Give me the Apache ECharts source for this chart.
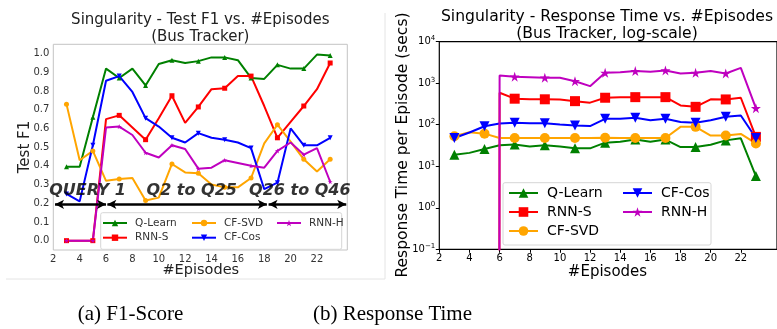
<!DOCTYPE html>
<html>
<head>
<meta charset="utf-8">
<script src="https://cdn.jsdelivr.net/npm/echarts@6/dist/echarts.min.js"></script>
<style>
  html, body { margin: 0; padding: 0; background: #fff; }
  #chart { width: 777px; height: 329px; }
</style>
</head>
<body>
<div id="chart"></div>
<script>
// Episodes at which each model was evaluated
const episodes = [3, 4, 5, 6, 7, 8, 9, 10, 11, 12, 13, 14, 15, 16, 17, 18, 19, 20, 21, 22, 23];

// Test F1 per episode
const qLearnF1 = [0.395, 0.395, 0.66, 0.92, 0.87, 0.92, 0.83, 0.945, 0.965, 0.95, 0.96, 0.98, 0.98, 0.965, 0.87, 0.865, 0.94, 0.92, 0.92, 0.995, 0.99];
const rnnSF1   = [0.0, 0.0, 0.0, 0.65, 0.67, 0.605, 0.54, 0.655, 0.775, 0.63, 0.715, 0.81, 0.815, 0.88, 0.88, 0.72, 0.55, 0.635, 0.72, 0.81, 0.95];
const cfSvdF1  = [0.73, 0.43, 0.48, 0.32, 0.33, 0.335, 0.215, 0.23, 0.41, 0.365, 0.36, 0.30, 0.285, 0.285, 0.335, 0.52, 0.62, 0.53, 0.435, 0.37, 0.435];
const cfCosF1  = [0.25, 0.21, 0.51, 0.855, 0.88, 0.795, 0.655, 0.61, 0.55, 0.525, 0.575, 0.55, 0.54, 0.525, 0.495, 0.275, 0.31, 0.60, 0.51, 0.51, 0.55];
const rnnHF1   = [0.0, 0.0, 0.0, 0.605, 0.61, 0.565, 0.47, 0.445, 0.51, 0.49, 0.385, 0.39, 0.43, 0.415, 0.40, 0.39, 0.48, 0.525, 0.46, 0.495, 0.315];

// Response time per episode (seconds); 0 = not run yet
const qLearnRT = [19, 21, 26, 32, 33.5, 30, 32, 30, 27, 27, 37, 39, 44, 39, 44, 29, 29, 33, 42, 47, 5.8];
const rnnSRT   = [0, 0, 0, 590, 424, 410, 410, 407, 370, 340, 447, 462, 462, 462, 462, 292, 270, 410, 407, 447, 51];
const cfSvdRT  = [53, 66, 61, 48, 48, 48, 48, 48, 48, 48, 48.5, 48, 48, 48, 48, 89, 89, 55, 55, 60, 35.5];
const cfCosRT  = [48, 65, 92, 107, 112, 108, 108, 101, 96, 93, 139, 139, 147, 129, 139, 116, 112, 129, 155, 167, 48];
const rnnHRT   = [0, 0, 0, 1540, 1435, 1400, 1360, 1360, 1120, 850, 1780, 1830, 1960, 1900, 2030, 1720, 1780, 1960, 1720, 2350, 250];

// Query phases marked along the F1 plot: [from episode, to episode, label]
const phases = [
  [2.13, 6.0, 'QUERY 1'],
  [6.1, 18.2, 'Q2 to Q25'],
  [18.33, 24.22, 'Q26 to Q46']
];
const phaseLevel = 0.194;
const phaseLabelLevel = 0.265;
const phaseLabelCenters = [4.6, 12.5, 20.7];

const xTicks = [2, 4, 6, 8, 10, 12, 14, 16, 18, 20, 22];
const f1Ticks = [0.0, 0.1, 0.2, 0.3, 0.4, 0.5, 0.6, 0.7, 0.8, 0.9, 1.0];

const FONT = 'DejaVu Sans';
const STAR = 'path://M5,0 L6.18,3.82 L10,3.82 L6.91,6.18 L8.09,10 L5,7.64 L1.91,10 L3.09,6.18 L0,3.82 L3.82,3.82 Z';
const TRI_DOWN = 'path://M0,0 L10,0 L5,10 Z';

const models = [
  { name: 'Q-Learn', color: '#008000', symbol: 'triangle', f1: qLearnF1, rt: qLearnRT },
  { name: 'RNN-S',   color: '#ff0000', symbol: 'rect',     f1: rnnSF1,   rt: rnnSRT },
  { name: 'CF-SVD',  color: '#ffa500', symbol: 'circle',   f1: cfSvdF1,  rt: cfSvdRT },
  { name: 'CF-Cos',  color: '#0000ff', symbol: TRI_DOWN,   f1: cfCosF1,  rt: cfCosRT },
  { name: 'RNN-H',   color: '#bf00bf', symbol: STAR,       f1: rnnHF1,   rt: rnnHRT }
];

// Log axis cannot show zero: push such points far below the visible range
const LOG_FLOOR = 1e-300;
const pairs = (ys, floorZero) => episodes.map((x, i) => [x, floorZero && ys[i] <= 0 ? LOG_FLOOR : ys[i]]);
// markers on every other point
const everyOther = size => (val, p) => (p.dataIndex % 2 === 0 ? size : 0);

const series = [];
models.forEach(m => {
  series.push({
    type: 'line', name: m.name, xAxisIndex: 0, yAxisIndex: 0,
    data: pairs(m.f1, false),
    color: m.color, symbol: m.symbol, symbolSize: everyOther(5), showAllSymbol: true,
    lineStyle: { width: 2, color: m.color }, itemStyle: { color: m.color },
    clip: true, z: 3
  });
});
models.forEach(m => {
  series.push({
    type: 'line', name: m.name, xAxisIndex: 1, yAxisIndex: 1,
    data: pairs(m.rt, true),
    color: m.color, symbol: m.symbol, symbolSize: everyOther(10), showAllSymbol: true,
    lineStyle: { width: 2, color: m.color }, itemStyle: { color: m.color },
    clip: true, z: 3
  });
});

// Phase labels and double-headed arrows on the F1 plot
series.push({
  type: 'scatter', xAxisIndex: 0, yAxisIndex: 0, symbolSize: 0, silent: true, z: 6,
  data: phases.map((p, i) => [phaseLabelCenters[i], phaseLabelLevel, p[2]]),
  label: {
    show: true, position: 'inside', formatter: p => p.data[2],
    fontFamily: FONT, fontWeight: 'bold', fontStyle: 'italic', fontSize: 16, color: '#000'
  },
  markLine: {
    silent: true, symbol: ['arrow', 'arrow'], symbolSize: [7, 9],
    lineStyle: { color: '#000', width: 2.5, type: 'solid' },
    label: { show: false },
    data: phases.map(p => [{ coord: [p[0], phaseLevel] }, { coord: [p[1], phaseLevel] }])
  }
});

const supDigits = v => {
  const e = Math.round(Math.log10(v));
  return '{b|10}{s|' + (e < 0 ? '\u2212' + (-e) : e) + '}';
};

const option = {
  animation: false,
  backgroundColor: '#fff',
  grid: [
    { left: 53.3, top: 44.3, width: 294, height: 205.7, show: true, borderColor: '#c4c4c4', borderWidth: 1, containLabel: false },
    { left: 439.3, top: 41.7, width: 341.6, height: 207.6, show: true, borderColor: '#000', borderWidth: 1.2, containLabel: false }
  ],
  xAxis: [
    {
      type: 'value', gridIndex: 0, min: 2, max: 24.3, interval: 2,
      axisLine: { show: false }, axisTick: { show: false }, splitLine: { show: false },
      axisLabel: {
        fontFamily: FONT, fontSize: 10, color: '#333', margin: 4,
        formatter: v => (xTicks.includes(v) ? String(v) : '')
      }
    },
    {
      type: 'value', gridIndex: 1, min: 2, max: 24.4, interval: 2,
      axisLine: { show: false }, splitLine: { show: false },
      axisTick: { show: true, inside: false, length: 3.5, lineStyle: { color: '#000' }, customValues: xTicks },
      axisLabel: {
        fontFamily: FONT, fontSize: 10, color: '#000', margin: 4, customValues: xTicks,
        formatter: v => (xTicks.includes(v) ? String(v) : '')
      }
    }
  ],
  yAxis: [
    {
      type: 'value', gridIndex: 0, min: -0.05, max: 1.05, interval: 0.05,
      axisLine: { show: false }, axisTick: { show: false }, splitLine: { show: false },
      axisLabel: {
        fontFamily: FONT, fontSize: 10, color: '#333', margin: 4,
        formatter: v => {
          const t = f1Ticks.find(k => Math.abs(k - v) < 1e-6);
          return t === undefined ? '' : t.toFixed(1);
        }
      }
    },
    {
      type: 'log', gridIndex: 1, logBase: 10, min: 0.1, max: 10000,
      axisLine: { show: false }, splitLine: { show: false }, minorTick: { show: false },
      axisTick: { show: true, inside: false, length: 3.5, lineStyle: { color: '#000' } },
      axisLabel: {
        margin: 4, formatter: supDigits,
        rich: {
          b: { fontFamily: FONT, fontSize: 10, color: '#000' },
          s: { fontFamily: FONT, fontSize: 7, color: '#000', padding: [0, 0, 7, 0] }
        }
      }
    }
  ],
  legend: [
    {
      data: ['Q-Learn', 'RNN-S'], orient: 'vertical', left: 102, top: 216, padding: 0,
      itemWidth: 24, itemHeight: 8, itemGap: 0.7, selectedMode: false, z: 8,
      textStyle: { fontFamily: FONT, fontSize: 10.5, color: '#333', lineHeight: 14, padding: [0, 0, 0, 3] }
    },
    {
      data: ['CF-SVD', 'CF-Cos'], orient: 'vertical', left: 191, top: 216, padding: 0,
      itemWidth: 24, itemHeight: 8, itemGap: 0.7, selectedMode: false, z: 8,
      textStyle: { fontFamily: FONT, fontSize: 10.5, color: '#333', lineHeight: 14, padding: [0, 0, 0, 3] }
    },
    {
      data: ['RNN-H'], orient: 'vertical', left: 276, top: 216, padding: 0,
      itemWidth: 24, itemHeight: 8, itemGap: 0.7, selectedMode: false, z: 8,
      textStyle: { fontFamily: FONT, fontSize: 10.5, color: '#333', lineHeight: 14, padding: [0, 0, 0, 3] }
    },
    {
      data: ['Q-Learn', 'RNN-S', 'CF-SVD'], orient: 'vertical', left: 508, top: 185, padding: 0,
      itemWidth: 29, itemHeight: 12, itemGap: 3, selectedMode: false, z: 8,
      textStyle: { fontFamily: FONT, fontSize: 14, color: '#000', lineHeight: 16, padding: [0, 0, 0, 4] }
    },
    {
      data: ['CF-Cos', 'RNN-H'], orient: 'vertical', left: 622, top: 185, padding: 0,
      itemWidth: 29, itemHeight: 12, itemGap: 3, selectedMode: false, z: 8,
      textStyle: { fontFamily: FONT, fontSize: 14, color: '#000', lineHeight: 16, padding: [0, 0, 0, 4] }
    }
  ],
  graphic: [
    // soft frame of the left panel
    { type: 'line', shape: { x1: 6, y1: 279, x2: 385, y2: 279 }, style: { stroke: '#e4e4e4', lineWidth: 1 }, z: 1 },
    { type: 'line', shape: { x1: 385, y1: 13, x2: 385, y2: 279 }, style: { stroke: '#e4e4e4', lineWidth: 1 }, z: 1 },
    // legend frames
    { type: 'rect', shape: { x: 100.7, y: 212.7, width: 241, height: 36.6, r: 2 }, style: { fill: 'rgba(255,255,255,0.85)', stroke: '#d6d6d6', lineWidth: 1 }, z: 7 },
    { type: 'rect', shape: { x: 503, y: 182.7, width: 208, height: 62.3, r: 2 }, style: { fill: 'rgba(255,255,255,0.85)', stroke: '#d6d6d6', lineWidth: 1 }, z: 7 },
    // titles
    { type: 'text', x: 200.3, y: 20, style: { text: 'Singularity - Test F1 vs. #Episodes', font: '15px "DejaVu Sans"', fill: '#222', align: 'center', verticalAlign: 'middle' } },
    { type: 'text', x: 200.3, y: 37, style: { text: '(Bus Tracker)', font: '15px "DejaVu Sans"', fill: '#222', align: 'center', verticalAlign: 'middle' } },
    { type: 'text', x: 607, y: 17, style: { text: 'Singularity - Response Time vs. #Episodes', font: '15.6px "DejaVu Sans"', fill: '#000', align: 'center', verticalAlign: 'middle' } },
    { type: 'text', x: 607, y: 34, style: { text: '(Bus Tracker, log-scale)', font: '15.6px "DejaVu Sans"', fill: '#000', align: 'center', verticalAlign: 'middle' } },
    // axis names
    { type: 'text', x: 200.8, y: 270.7, style: { text: '#Episodes', font: '14.5px "DejaVu Sans"', fill: '#222', align: 'center', verticalAlign: 'middle' } },
    { type: 'text', x: 607.5, y: 271.7, style: { text: '#Episodes', font: '15px "DejaVu Sans"', fill: '#000', align: 'center', verticalAlign: 'middle' } },
    { type: 'text', x: 25, y: 147, rotation: Math.PI / 2, style: { text: 'Test F1', font: '15px "DejaVu Sans"', fill: '#222', align: 'center', verticalAlign: 'middle' } },
    { type: 'text', x: 403, y: 145, rotation: Math.PI / 2, style: { text: 'Response Time per Episode (secs)', font: '15.5px "DejaVu Sans"', fill: '#000', align: 'center', verticalAlign: 'middle' } },
    // captions
    { type: 'text', x: 130.5, y: 314, style: { text: '(a) F1-Score', font: '21px "Liberation Serif"', fill: '#000', align: 'center', verticalAlign: 'middle' } },
    { type: 'text', x: 392.5, y: 314, style: { text: '(b) Response Time', font: '21px "Liberation Serif"', fill: '#000', align: 'center', verticalAlign: 'middle' } }
  ],
  series: series
};

const chart = echarts.init(document.getElementById('chart'), null, { renderer: 'canvas' });
chart.setOption(option);
</script>
</body>
</html>
